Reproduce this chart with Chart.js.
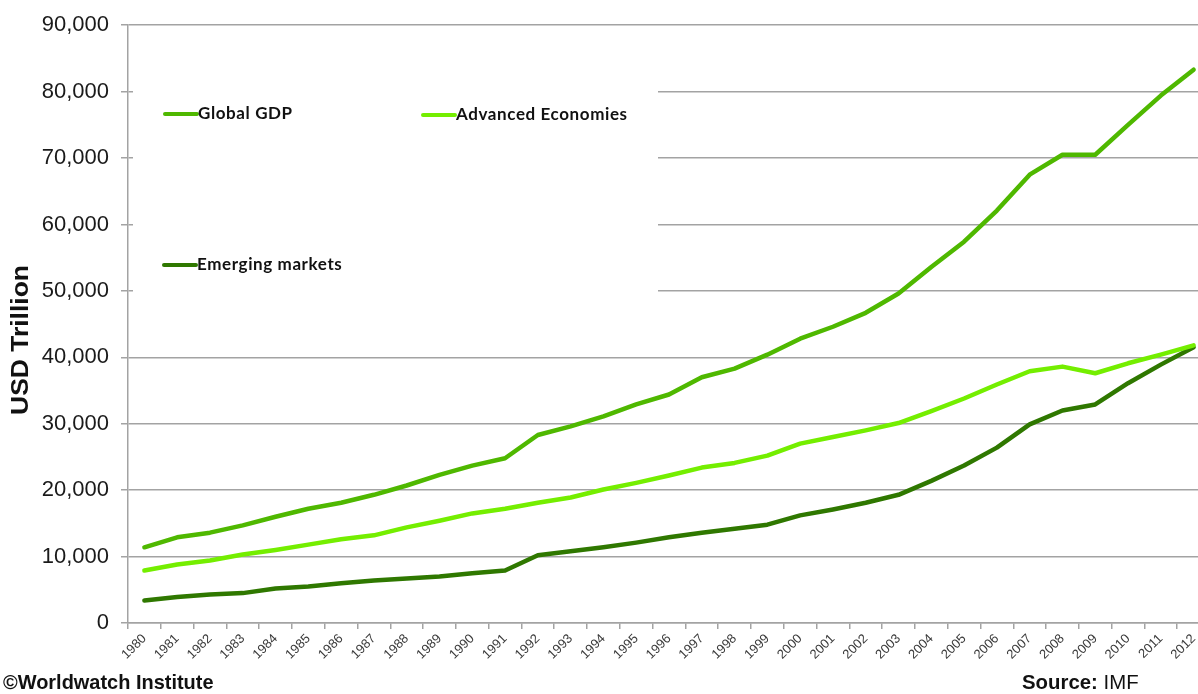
<!DOCTYPE html>
<html lang="en">

<head>
    <meta charset="UTF-8">
    <script src="https://cdn.jsdelivr.net/npm/chart.js"></script>
    <title>Global GDP</title>
    <style>
        body {
            margin: 0;
            overflow: hidden;
            background: #fff;
            width: 1198px;
            height: 694px;
            position: relative;
        }

        #wrap {
            position: absolute;
            left: 0;
            top: 0;
            width: 1210px;
            height: 694px;
        }

        .foot {
            position: absolute;
            top: 670px;
            font-family: "Liberation Sans", Arial, sans-serif;
            font-size: 21px;
            color: #111;
            white-space: nowrap;
            transform-origin: left top;
        }
    </style>
</head>

<body>
    <div id="wrap">
        <canvas id="gdpChart" width="1210" height="694"></canvas>
    </div>
    <div class="foot" style="left:3px; font-weight:bold; transform:scaleX(0.95);">©Worldwatch Institute</div>
    <div class="foot" style="left:1022px; transform:scaleX(0.97);"><b>Source:</b> IMF</div>
    <script>
        const years = ['1980', '1981', '1982', '1983', '1984', '1985', '1986', '1987', '1988', '1989',
            '1990', '1991', '1992', '1993', '1994', '1995', '1996', '1997', '1998', '1999',
            '2000', '2001', '2002', '2003', '2004', '2005', '2006', '2007', '2008', '2009',
            '2010', '2011', '2012'];

        const globalGdp = [11400, 12900, 13600, 14700, 16000, 17200, 18100, 19300, 20700, 22300,
            23700, 24800, 28300, 29600, 31100, 32900, 34400, 37000, 38300, 40400,
            42800, 44600, 46700, 49600, 53600, 57400, 62100, 67500, 70500, 70500,
            75000, 79400, 83300];

        const advanced = [7900, 8800, 9400, 10300, 11000, 11800, 12600, 13200, 14400, 15400,
            16500, 17200, 18100, 18900, 20100, 21100, 22200, 23400, 24100, 25200,
            27000, 28000, 29000, 30100, 31900, 33800, 35900, 37900, 38600, 37600,
            39100, 40400, 41800];

        const emerging = [3400, 3900, 4300, 4500, 5200, 5500, 6000, 6400, 6700, 7000,
            7500, 7900, 10200, 10800, 11400, 12100, 12900, 13600, 14200, 14800,
            16200, 17100, 18100, 19300, 21400, 23700, 26400, 29900, 32000, 32900,
            36100, 38900, 41500];

        const yTicks = [0, 10000, 20000, 30000, 40000, 50000, 60000, 70000, 80000, 90000];

        const corGlobal = '#4fb800';
        const corAdvanced = '#74ee00';
        const corEmerging = '#2f7800';
        const corGrid = '#a3a3a3';

        // legenda dentro do gráfico, com fundo branco por cima das linhas de grade
        const legendaBox = {
            id: 'legendaBox',
            beforeDatasetsDraw(chart) {
                const ctx = chart.ctx;
                ctx.save();
                ctx.fillStyle = '#fff';
                ctx.fillRect(133, 60, 525, 245);

                const itens = [
                    { txt: 'Global GDP', cor: corGlobal, x: 165, y: 114 },
                    { txt: 'Advanced Economies', cor: corAdvanced, x: 423, y: 115 },
                    { txt: 'Emerging markets', cor: corEmerging, x: 164, y: 265 }
                ];
                itens.forEach(function (it) {
                    ctx.strokeStyle = it.cor;
                    ctx.lineWidth = 4;
                    ctx.lineCap = 'round';
                    ctx.beginPath();
                    ctx.moveTo(it.x, it.y);
                    ctx.lineTo(it.x + 32, it.y);
                    ctx.stroke();
                    ctx.fillStyle = '#111';
                    ctx.font = 'bold 17px Lato, "Open Sans", sans-serif';
                    ctx.letterSpacing = '0.6px';
                    ctx.textBaseline = 'middle';
                    ctx.textAlign = 'left';
                    ctx.fillText(it.txt, it.x + 33, it.y);
                });
                ctx.letterSpacing = '0px';

                // titulo do eixo y
                ctx.translate(22, 340);
                ctx.rotate(-Math.PI / 2);
                ctx.scale(1.15, 1);
                ctx.font = 'bold 23px "Liberation Sans", Arial, sans-serif';
                ctx.textAlign = 'center';
                ctx.textBaseline = 'middle';
                ctx.fillStyle = '#111';
                ctx.fillText('USD Trillion', 0, 0);
                ctx.restore();
            }
        };

        const ctxGdp = document.getElementById('gdpChart').getContext('2d');
        const gdpChart = new Chart(ctxGdp, {
            type: 'line',
            data: {
                labels: years,
                datasets: [{
                    label: 'Global GDP',
                    data: globalGdp,
                    borderColor: corGlobal,
                    backgroundColor: corGlobal
                }, {
                    label: 'Advanced Economies',
                    data: advanced,
                    borderColor: corAdvanced,
                    backgroundColor: corAdvanced
                }, {
                    label: 'Emerging markets',
                    data: emerging,
                    borderColor: corEmerging,
                    backgroundColor: corEmerging
                }]
            },
            options: {
                responsive: false,
                animation: false,
                layout: {
                    padding: { top: 20, left: 0, right: 0, bottom: 0 }
                },
                elements: {
                    line: { borderWidth: 4.5, tension: 0, borderCapStyle: 'round', borderJoinStyle: 'round' },
                    point: { radius: 0 }
                },
                plugins: {
                    legend: { display: false },
                    tooltip: { enabled: false }
                },
                scales: {
                    x: {
                        offset: true,
                        afterFit: function (scale) { scale.height = 71; },
                        grid: {
                            offset: true,
                            drawOnChartArea: false,
                            drawTicks: true,
                            tickLength: 6,
                            color: corGrid,
                            lineWidth: 1.5
                        },
                        border: { color: corGrid, width: 1.5 },
                        ticks: {
                            autoSkip: false,
                            maxRotation: 45,
                            minRotation: 45,
                            padding: 2,
                            color: '#3a3a3a',
                            font: { family: '"Liberation Sans", Arial, sans-serif', size: 13 }
                        }
                    },
                    y: {
                        min: 0,
                        max: 90000,
                        afterFit: function (scale) { scale.width = 128; },
                        afterBuildTicks: function (scale) {
                            scale.ticks = yTicks.map(v => ({ value: v }));
                        },
                        grid: {
                            color: corGrid,
                            lineWidth: 1.5,
                            tickLength: 7
                        },
                        border: { color: corGrid, width: 1.5 },
                        ticks: {
                            padding: 12,
                            color: '#1a1a1a',
                            font: { family: '"Liberation Sans", Arial, sans-serif', size: 22 },
                            callback: function (v) { return v.toLocaleString('en-US'); }
                        }
                    }
                }
            },
            plugins: [legendaBox]
        });
    </script>
</body>

</html>
